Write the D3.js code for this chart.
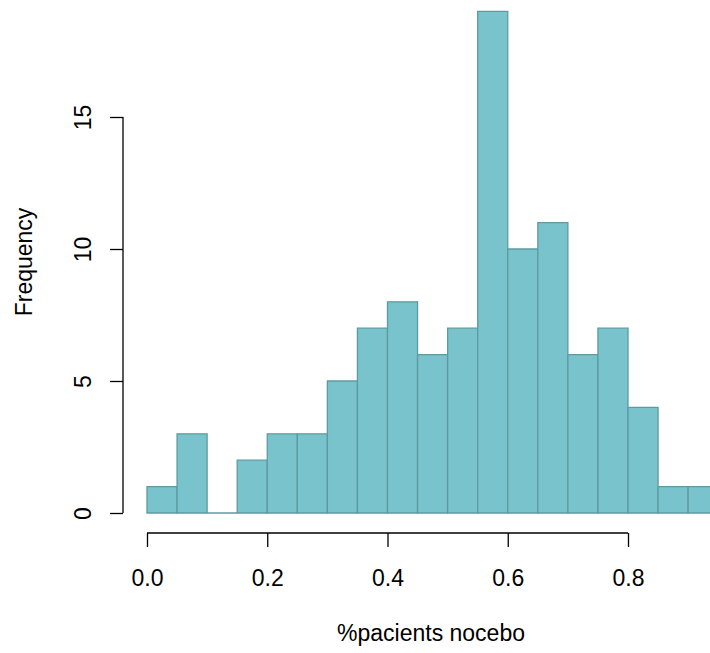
<!DOCTYPE html>
<html><head><meta charset="utf-8">
<script src="https://cdn.jsdelivr.net/npm/d3@7"></script>
<style>body{margin:0;background:#fff}svg{display:block}text{font-family:"Liberation Sans",Arial,sans-serif;fill:#000}</style>
</head><body><svg id="c" width="710" height="653"></svg>
<script>
const binStarts = [0,0.05,0.1,0.15,0.2,0.25,0.3,0.35,0.4,0.45,0.5,0.55,0.6,0.65,0.7,0.75,0.8,0.85,0.9];
const binWidth = 0.05;
const counts = [1,3,0,2,3,3,5,7,8,6,7,19,10,11,6,7,4,1,1];
const xTicks = [0,0.2,0.4,0.6,0.8];
const yTicks = [0,5,10,15];
const xLabel = "%pacients nocebo";
const yLabel = "Frequency";

const svg = d3.select("#c");
const x = d3.scaleLinear().domain([0,0.8]).range([147,628]);
const y = d3.scaleLinear().domain([0,15]).range([513,117]);
const fs = 23;

svg.append("g").selectAll("path").data(counts).join("path")
  .attr("d",(d,i)=>{
    const x0=x(binStarts[i]), x1=x(binStarts[i]+binWidth), y0=y(0), y1=y(d);
    return `M${x0},${y0}V${y1}H${x1}V${y0}Z`;
  })
  .attr("fill","#78c3cc").attr("stroke","#5e9ba1").attr("stroke-width",1.3);

// x axis
const xa = d3.axisBottom(x).tickValues(xTicks).tickFormat(d3.format(".1f")).tickSizeOuter(0).tickSize(14);
const gx = svg.append("g").attr("transform","translate(0,533)").call(xa);
gx.select(".domain").attr("stroke","#000").attr("stroke-width",1.3).attr("d",`M${x(0)},0H${x(0.8)}`);
gx.selectAll(".tick line").attr("stroke","#000").attr("stroke-width",1.3);
gx.selectAll(".tick text").attr("font-size",fs).attr("font-family","Liberation Sans, Arial, sans-serif").attr("fill","#000")
  .attr("y",53).attr("dy",null);

// y axis
const ya = d3.axisLeft(y).tickValues(yTicks).tickSizeOuter(0).tickSize(13);
const gy = svg.append("g").attr("transform","translate(123,0)").call(ya);
gy.select(".domain").attr("stroke","#000").attr("stroke-width",1.3).attr("d",`M0,${y(0)}V${y(15)}`);
gy.selectAll(".tick line").attr("stroke","#000").attr("stroke-width",1.3);
gy.selectAll(".tick text").attr("font-size",fs).attr("font-family","Liberation Sans, Arial, sans-serif").attr("fill","#000")
  .attr("x",null).attr("dy",null).attr("text-anchor","middle")
  .attr("transform","translate(-32,0) rotate(-90)").attr("y",0);

svg.append("text").attr("x",431).attr("y",641).attr("text-anchor","middle").attr("font-size",fs).text(xLabel);
svg.append("text").attr("transform","translate(32,262) rotate(-90)").attr("text-anchor","middle").attr("font-size",fs).text(yLabel);
</script></body></html>
